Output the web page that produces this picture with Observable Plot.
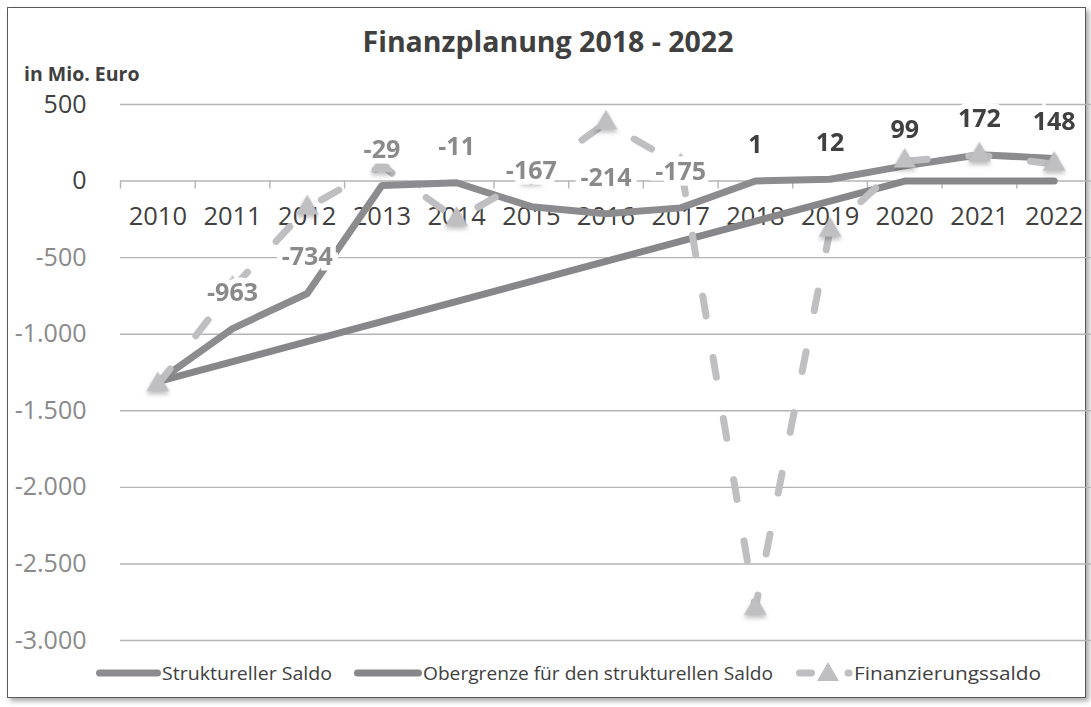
<!DOCTYPE html>
<html>
<head>
<meta charset="utf-8">
<script src="https://cdn.jsdelivr.net/npm/d3@7"></script>
<script src="https://cdn.jsdelivr.net/npm/@observablehq/plot@0.6"></script>
<style>
  body { margin: 0; background: #fff; font-family: "Open Sans", sans-serif; }
  #wrap { position: relative; width: 1091px; height: 707px; overflow: hidden; background: #fff; }
  #frame { position: absolute; left: 7px; top: 7px; width: 1077px; height: 689px;
           border: 1.5px solid #5a5a5a; box-shadow: 3px 3px 5px rgba(0,0,0,0.35); background: #fff; }
  #title { position: absolute; left: 0; top: 26px; width: 1096px; text-align: center;
           font-weight: 700; font-size: 28.5px; line-height: 30px; color: #404040; }
  #unit { position: absolute; left: 24px; top: 63px; font-weight: 700; font-size: 19.5px;
          line-height: 22px; color: #404040; }
  #plot { position: absolute; left: 0; top: 0; }
  #legend { position: absolute; left: 0; top: 655px; }
  #plot g[aria-label="dot"] { filter: drop-shadow(0px 3px 2px rgba(0,0,0,0.25)); }
</style>
</head>
<body>
<div id="wrap">
  <div id="frame"></div>
  <div id="plot"></div>
  <div id="title">Finanzplanung 2018 - 2022</div>
  <div id="unit">in Mio. Euro</div>
  <div id="legend"></div>
</div>
<script>
// ---- data ----
const years = [2010, 2011, 2012, 2013, 2014, 2015, 2016, 2017, 2018, 2019, 2020, 2021, 2022];
const strukturellerSaldo = [-1310, -963, -734, -29, -11, -167, -214, -175, 1, 12, 99, 172, 148];
const obergrenzeYears = [2010, 2020, 2021, 2022];
const obergrenze = [-1310, 0, 0, 0];
const finanzierungssaldo = [-1330, -700, -175, 100, -250, 30, 380, 100, -2790, -320, 130, 170, 110];
const labelYears = [2011, 2012, 2013, 2014, 2015, 2016, 2017, 2018, 2019, 2020, 2021, 2022];
const yTicks = [500, 0, -500, -1000, -1500, -2000, -2500, -3000];
const seriesNames = ["Struktureller Saldo", "Obergrenze für den strukturellen Saldo", "Finanzierungssaldo"];

// ---- styles ----
const cStruct = "#8c8c8e";
const cOber = "#878789";
const cFin = "#bfbfc1";
const cPos = "#404040";
const cNeg = "#8a8a8a";
const grid = "#b4b4b4";

const de = d3.formatLocale({decimal: ",", thousands: ".", grouping: [3], currency: ["", " €"], minus: "-"});
const fmt = de.format(",d");

const structData = years.map((year, i) => ({year, value: strukturellerSaldo[i]}));
const oberData = obergrenzeYears.map((year, i) => ({year, value: obergrenze[i]}));
const finData = years.map((year, i) => ({year, value: finanzierungssaldo[i]}));
const labelData = structData.filter(d => labelYears.includes(d.year));
const edges = years.map(y => y - 0.5).concat([years[years.length - 1] + 0.5]);

const chart = Plot.plot({
  width: 1091,
  height: 707,
  marginLeft: 120,
  marginRight: 0,
  marginTop: 104,
  marginBottom: 67,
  style: {background: "transparent", overflow: "visible", fontFamily: "'Open Sans', sans-serif"},
  x: {domain: [edges[0], edges[edges.length - 1]], axis: null},
  y: {domain: [yTicks[yTicks.length - 1], yTicks[0]], axis: null},
  marks: [
    Plot.ruleY(yTicks, {stroke: grid, strokeWidth: 1.4}),
    Plot.ruleX(edges, {x: d => d, y1: 0, y2: 0, insetBottom: -8, stroke: grid, strokeWidth: 1.4}),
    Plot.axisY(yTicks.filter(d => d >= 0), {tickSize: 0, tickPadding: 34, tickFormat: fmt, fontSize: 25, fill: cPos, label: null}),
    Plot.axisY(yTicks.filter(d => d < 0), {tickSize: 0, tickPadding: 34, tickFormat: fmt, fontSize: 25, fill: cNeg, label: null}),
    Plot.text(years, {x: d => d, y: 0, dy: 36, text: d => String(d), fontSize: 25.5, fill: "#404040"}),
    Plot.line(structData, {x: "year", y: "value", stroke: cStruct, strokeWidth: 7, strokeLinejoin: "round", strokeLinecap: "round"}),
    Plot.line(oberData, {x: "year", y: "value", stroke: cOber, strokeWidth: 7, strokeLinejoin: "round", strokeLinecap: "round"}),
    Plot.line(finData, {x: "year", y: "value", stroke: cFin, strokeWidth: 7, strokeDasharray: "20,42", strokeLinecap: "round", strokeLinejoin: "round"}),
    Plot.dot(finData, {x: "year", y: "value", symbol: "triangle", r: 8.5, fill: cFin, stroke: null}),
    Plot.text(labelData, {filter: d => d.value < 0, x: "year", y: "value", dy: -36, text: d => fmt(d.value),
      fontSize: 25, fontWeight: 700, fill: cNeg, stroke: "white", strokeWidth: 11, strokeLinejoin: "miter"}),
    Plot.text(labelData, {filter: d => d.value >= 0, x: "year", y: "value", dy: -36, text: d => fmt(d.value),
      fontSize: 25, fontWeight: 700, fill: cPos, stroke: "white", strokeWidth: 11, strokeLinejoin: "miter"})
  ]
});
document.getElementById("plot").appendChild(chart);

// ---- legend ----
const ns = "http://www.w3.org/2000/svg";
const lg = document.createElementNS(ns, "svg");
lg.setAttribute("width", 1091);
lg.setAttribute("height", 36);
function el(tag, attrs, parent) {
  const e = document.createElementNS(ns, tag);
  for (const k in attrs) e.setAttribute(k, attrs[k]);
  (parent || lg).appendChild(e);
  return e;
}
const items = [
  {x0: 99.5, x1: 157.5, tx: 162, tw: 170, color: cStruct, dash: null},
  {x0: 357.5, x1: 418.5, tx: 423, tw: 350, color: cOber, dash: null},
  {x0: 799.5, x1: 849, tx: 854, tw: 187, color: cFin, dash: "12,36.5"}
];
items.forEach((it, i) => {
  const line = el("line", {x1: it.x0, x2: it.x1, y1: 18, y2: 18, stroke: it.color, "stroke-width": 7, "stroke-linecap": "round"});
  if (it.dash) {
    line.setAttribute("stroke-dasharray", it.dash);
    const cx = 828, cy = 18;
    el("path", {d: `M${cx},${cy - 11}L${cx + 11},${cy + 8}L${cx - 11},${cy + 8}Z`, fill: cFin});
  }
  const t = el("text", {x: it.tx, y: 24.5, "font-size": 17.5, fill: "#404040", "font-family": "'Open Sans', sans-serif",
    textLength: it.tw, lengthAdjust: "spacingAndGlyphs"});
  t.textContent = seriesNames[i];
});
document.getElementById("legend").appendChild(lg);
</script>
</body>
</html>
